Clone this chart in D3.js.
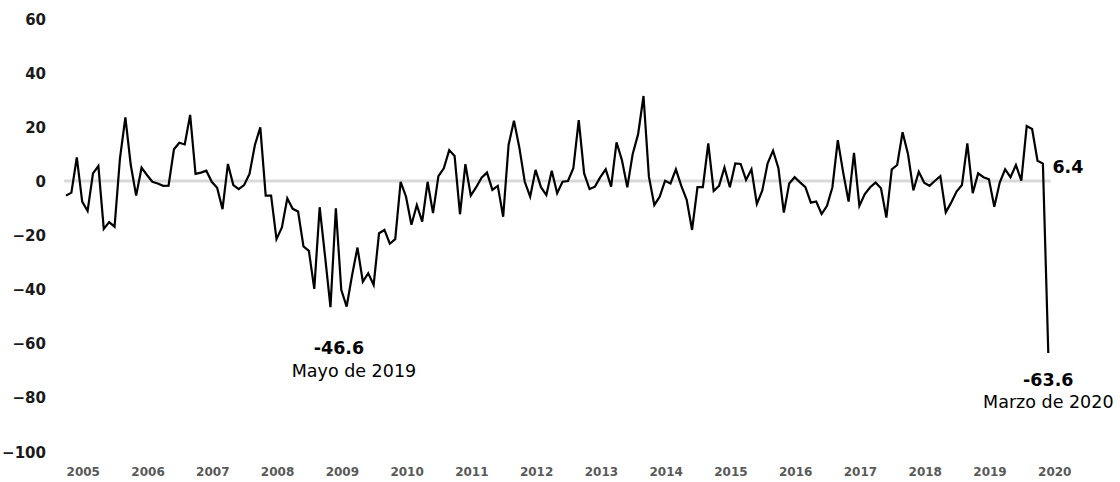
<!DOCTYPE html>
<html>
<head>
<meta charset="utf-8">
<script src="https://cdn.jsdelivr.net/npm/d3@7"></script>
<style>
  html, body { margin: 0; padding: 0; background: #fff; }
  svg { display: block; }
</style>
</head>
<body>
<svg id="chart" width="1120" height="482"></svg>
<script>
// Monthly values, Jan 2005 .. Mar 2020
const startYear = 2005;
const values = [
  -5.4, -4.3, 8.7, -7.6, -11.1, 2.8, 5.5, -17.7, -15.2, -16.9, 8.4, 23.5,
  5.9, -5.4, 4.9, 2.2, -0.3, -0.9, -1.8, -1.7, 11.7, 14.1, 13.5, 24.4,
  2.6, 3.1, 3.8, -0.3, -2.5, -10.4, 6.3, -1.5, -3.0, -1.5, 2.6, 13.3,
  19.8, -5.4, -5.4, -21.5, -17.2, -6.4, -10.3, -11.3, -24.2, -25.8, -39.9, -9.7,
  -27.9, -46.6, -10.1, -40.2, -46.4, -34.9, -24.6, -37.2, -34.1, -38.4, -19.3, -18.1,
  -23.2, -21.5, -0.3, -5.8, -16.2, -8.9, -15.0, -0.3, -11.9, 1.8, 4.7, 11.4,
  9.2, -12.3, 6.2, -5.4, -2.3, 1.2, 3.1, -3.3, -1.8, -13.2, 13.3, 22.3,
  12.3, -0.3, -5.8, 4.1, -2.3, -5.2, 3.8, -4.5, -0.3, 0.0, 4.7, 22.5,
  2.8, -3.0, -2.1, 1.4, 4.3, -2.1, 14.3, 7.7, -2.3, 10.0, 17.3, 31.4,
  1.6, -8.9, -5.8, 0.1, -0.9, 4.3, -1.8, -7.0, -18.1, -2.3, -2.3, 13.9,
  -3.7, -1.8, 5.0, -2.3, 6.5, 6.3, 0.4, 4.3, -8.5, -3.6, 6.5, 11.2,
  4.7, -11.7, -0.9, 1.4, -0.5, -2.3, -8.0, -7.6, -12.2, -9.2, -2.3, 15.1,
  3.1, -7.6, 10.4, -9.2, -4.8, -2.3, -0.6, -2.7, -13.5, 4.3, 5.9, 18.0,
  10.0, -3.5, 3.4, -0.6, -1.8, 0.1, 1.8, -11.6, -8.0, -3.9, -1.5, 13.9,
  -4.5, 2.8, 1.4, 0.6, -9.5, -0.6, 4.3, 1.4, 5.9, 0.1, 20.3, 19.2,
  7.5, 6.4, -63.6
];
const yearLabels = ["2005","2006","2007","2008","2009","2010","2011","2012","2013","2014","2015","2016","2017","2018","2019","2020"];
const yTicks = [60, 40, 20, 0, -20, -40, -60, -80, -100];

// annotations: index into values, value text, caption
const minIndex = 49;          // annotated trough
const lastIndex = values.length - 1;
const prevIndex = values.length - 2;
const annMinValue = "-46.6";
const annMinCaption = "Mayo de 2019";
const annLastValue = "-63.6";
const annLastCaption = "Marzo de 2020";
const annPrevValue = "6.4";

const svg = d3.select("#chart");

const x = d3.scaleLinear().domain([0, values.length - 1]).range([66, 1048.3]);
const y = d3.scaleLinear().domain([-100, 60]).range([451.6, 18.6]);

// zero line
svg.append("line")
  .attr("x1", x(-0.35)).attr("x2", x(values.length - 1 + 0.45))
  .attr("y1", y(0)).attr("y2", y(0))
  .attr("stroke", "#d9d9d9").attr("stroke-width", 3);

// y axis labels
const yAxis = d3.axisLeft(y).tickValues(yTicks).tickSize(0).tickPadding(0).tickFormat(d3.format("d"));
const gy = svg.append("g").attr("transform", "translate(46,0)").call(yAxis);
gy.select(".domain").remove();
gy.selectAll("text")
  .attr("font-family", "DejaVu Sans")
  .attr("font-weight", "bold")
  .attr("font-size", 15)
  .attr("fill", "#1a1a1a")
  .attr("dy", "0.36em");

// x axis labels (one per year)
const labelOffset = 3.2;
const gx = svg.append("g");
gx.selectAll("text").data(yearLabels).join("text")
  .attr("x", (d, i) => x(i * 12 + labelOffset))
  .attr("y", 476)
  .attr("text-anchor", "middle")
  .attr("font-family", "DejaVu Sans")
  .attr("font-weight", "bold")
  .attr("font-size", 12)
  .attr("fill", "#595959")
  .text(d => d);

// line
const line = d3.line().x((d, i) => x(i)).y(d => y(d)).curve(d3.curveLinear);
svg.append("path")
  .datum(values)
  .attr("d", line)
  .attr("fill", "none")
  .attr("stroke", "#000")
  .attr("stroke-width", 2.2)
  .attr("stroke-linejoin", "miter")
  .attr("stroke-miterlimit", 4);

// annotations
const ann = svg.append("g").attr("font-family", "DejaVu Sans").attr("fill", "#000");
ann.append("text")
  .attr("x", x(minIndex) + 8.5).attr("y", 354)
  .attr("text-anchor", "middle").attr("font-weight", "bold").attr("font-size", 17.5)
  .text(annMinValue);
ann.append("text")
  .attr("x", x(minIndex) + 23.5).attr("y", 376.5)
  .attr("text-anchor", "middle").attr("font-size", 17.5)
  .text(annMinCaption);
ann.append("text")
  .attr("x", x(prevIndex) + 9.5).attr("y", 172.5)
  .attr("text-anchor", "start").attr("font-weight", "bold").attr("font-size", 17.5)
  .text(annPrevValue);
ann.append("text")
  .attr("x", x(lastIndex)).attr("y", 386)
  .attr("text-anchor", "middle").attr("font-weight", "bold").attr("font-size", 17.5)
  .text(annLastValue);
ann.append("text")
  .attr("x", x(lastIndex)).attr("y", 408.3)
  .attr("text-anchor", "middle").attr("font-size", 17.5)
  .text(annLastCaption);
</script>
</body>
</html>
